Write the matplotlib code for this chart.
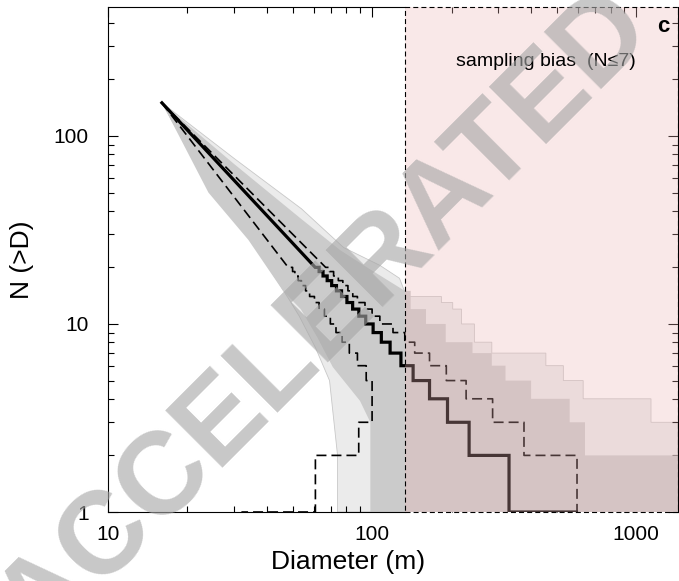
import matplotlib
matplotlib.use('Agg')
import matplotlib.pyplot as plt
from matplotlib.patches import Rectangle
from matplotlib.ticker import NullFormatter

plt.rcParams['font.family'] = ['Liberation Sans', 'DejaVu Sans']

# cumulative curves: start point, then stair levels N=20..1 with right edges (m)
start_D, start_N = 16, 150
levels = list(range(20, 0, -1))

median_entry = 60.9
median_edges = [63.0, 65.2, 67.6, 70.3, 73.3, 76.6, 80.3, 84.4, 89.1, 94.6,
                100.9, 108.4, 117, 128.6, 143, 165, 193, 233, 330, 594]
upper_entry = 66.7
upper_edges = [69, 71.5, 74.5, 77.5, 81, 84.5, 88, 94, 100, 107,
               120, 133, 145, 165, 191, 227, 286, 376, 597, 597]
lower_entry = 48.1
lower_edges = [50, 51, 52.5, 54, 56, 58, 60.5, 63, 66, 69.5,
               73, 77, 82, 88, 95, 100, 100, 89, 61, 32]

# envelope of the Monte Carlo runs (grey bundle)
outer_upper_D = [16, 30, 54, 78, 107, 127, 135, 183, 183, 202, 202, 218, 218, 244,
                 244, 284, 284, 455, 455, 530, 530, 630, 630, 1138, 1138, 1440]
outer_upper_N = [150, 76, 41, 25.5, 20.5, 17.5, 14, 14, 13, 13, 12, 12, 10, 10,
                 8, 8, 7, 7, 6, 6, 5, 5, 4, 4, 3, 3]
outer_lower_D = [16, 25, 35.5, 48.5, 53, 61, 69, 74, 74]
outer_lower_N = [150, 49, 27, 13.5, 11, 7.5, 5, 2, 1]

core_upper_D = [16, 30, 53.5, 76, 95.6, 133, 140, 140, 160, 160, 190, 190, 240, 240,
                284, 284, 320, 320, 400, 400, 560, 560, 640, 640, 1440]
core_upper_N = [150, 71, 36.5, 24.6, 20, 15, 15, 12, 12, 10, 10, 8, 8, 7,
                7, 6, 6, 5, 5, 4, 4, 3, 3, 2, 2]
core_lower_D = [16, 24, 34, 46, 53.7, 62, 71, 90, 98.5, 98.5]
core_lower_N = [150, 50, 28, 15, 12, 8.5, 5.9, 3.9, 3, 1]

bias_D = 133
xlim = (10, 1440)
ylim = (1, 485)


def stairs(entry, edges):
    xs, ys = [start_D, entry], [start_N, levels[0]]
    for i, (d, n) in enumerate(zip(edges, levels)):
        xs.append(d)
        ys.append(n)
        if i + 1 < len(levels):
            xs.append(d)
            ys.append(levels[i + 1])
    return xs, ys


fig = plt.figure(figsize=(6.79, 5.81), dpi=100)
ax = fig.add_axes([108 / 679, 1 - 512 / 581, 570 / 679, 505 / 581])
ax.set_xscale('log')
ax.set_yscale('log')

# grey bundle
ox = outer_upper_D + [xlim[1]] + outer_lower_D[::-1]
oy = outer_upper_N + [ylim[0]] + outer_lower_N[::-1]
ax.fill(ox, oy, facecolor='#ebebeb', edgecolor='#c8c8c8', lw=0.6, zorder=1)
cx = core_upper_D + [xlim[1]] + core_lower_D[::-1]
cy = core_upper_N + [ylim[0]] + core_lower_N[::-1]
ax.fill(cx, cy, facecolor='#cbcbcb', edgecolor='none', zorder=2)

dash = (0, (6, 3))
x, y = stairs(lower_entry, lower_edges)
ax.plot(x, y, color='k', lw=1.2, ls=dash, zorder=3)
x, y = stairs(upper_entry, upper_edges)
ax.plot(x, y, color='k', lw=1.2, ls=dash, zorder=3)
x, y = stairs(median_entry, median_edges)
ax.plot(x, y, color='k', lw=2.3, zorder=4, solid_joinstyle='miter')

# sampling bias region
ax.add_patch(Rectangle((bias_D, ylim[0]), xlim[1] - bias_D, ylim[1] - ylim[0],
                       facecolor='#eeb6b6', alpha=0.3, edgecolor='none', zorder=5))
ax.add_patch(Rectangle((bias_D, ylim[0]), xlim[1] - bias_D, ylim[1] - ylim[0],
                       fill=False, edgecolor='k', lw=0.8, ls=(0, (4.5, 2.8)),
                       zorder=6, clip_on=False))
fig.text(546 / 679, 1 - 61 / 581, 'sampling bias  (N\u22647)', fontsize=14,
         ha='center', va='center')

ax.set_xlim(*xlim)
ax.set_ylim(*ylim)
ax.spines['top'].set_visible(False)
ax.spines['bottom'].set_visible(False)
for yy in ylim:
    ax.plot([xlim[0], bias_D], [yy, yy], color='k', lw=0.8, clip_on=False, zorder=6)
for s in ['left', 'right']:
    ax.spines[s].set_linewidth(0.8)

ax.set_xticks([10, 100, 1000], labels=['10', '100', '1000'])
ax.set_yticks([1, 10, 100], labels=['1', '10', '100'])
ax.xaxis.set_minor_formatter(NullFormatter())
ax.yaxis.set_minor_formatter(NullFormatter())
ax.tick_params(which='both', direction='in', top=True, right=True, width=0.8,
               labelsize=15)
ax.tick_params(which='major', length=7)
ax.tick_params(which='minor', length=4)
ax.tick_params(axis='y', pad=14)
ax.tick_params(axis='x', pad=9)

fig.text(348 / 679, 1 - 562 / 581, 'Diameter (m)', fontsize=19,
         ha='center', va='center')
fig.text(22 / 679, 1 - 260 / 581, 'N (>D)', fontsize=19, rotation=90,
         ha='center', va='center')

fig.text(663 / 679, 1 - 26 / 581, 'c', fontsize=16, fontweight='bold',
         ha='center', va='center')

# watermark
fig.text(325 / 679, 262 / 581, 'ACCELERATED', rotation=45, fontsize=84,
         fontweight='bold', color=(0.65, 0.65, 0.65), alpha=0.62,
         ha='center', va='center', rotation_mode='anchor', zorder=10)

fig.savefig('out.png', dpi=100)
